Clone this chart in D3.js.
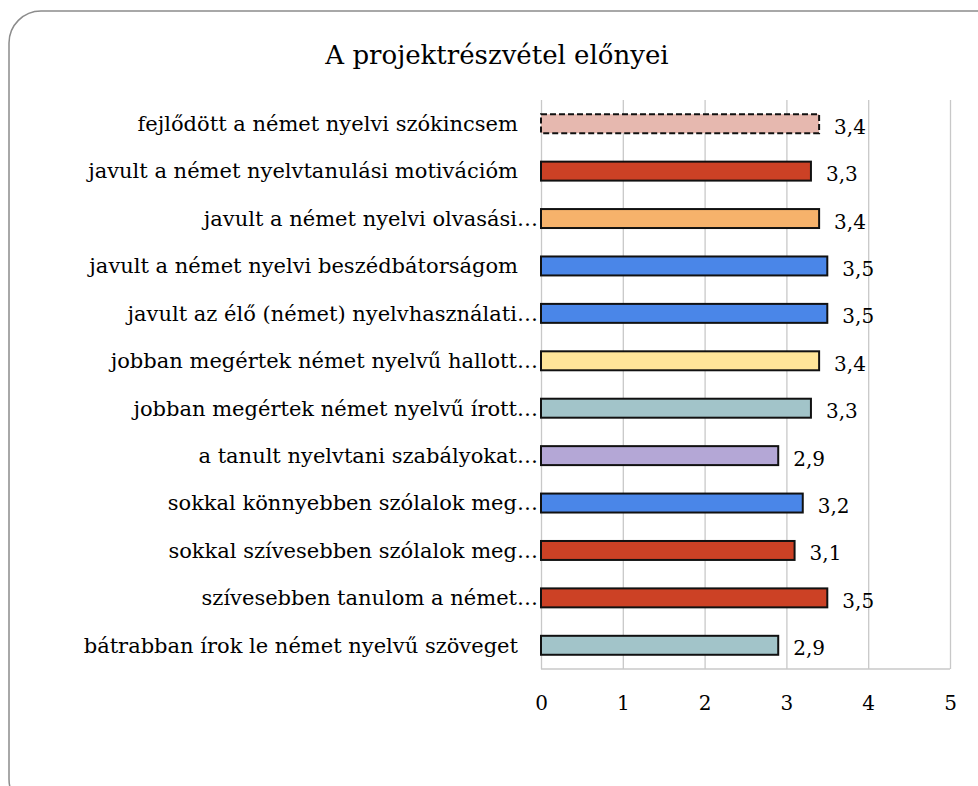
<!DOCTYPE html>
<html>
<head>
<meta charset="utf-8">
<script src="https://cdn.jsdelivr.net/npm/d3@7"></script>
<style>
  body { margin: 0; background: #fff; }
  svg text { font-family: "DejaVu Serif", serif; fill: #000; }
  .grid line { stroke: #c8c8c8; stroke-width: 1.3; }
  .grid .domain { display: none; }
  .ticks .domain, .ticks line { display: none; }
</style>
</head>
<body>
<script>
// chart data
var title = "A projektrészvétel előnyei";
var categories = [
  "fejlődött a német nyelvi szókincsem   ",
  "javult a német nyelvtanulási motivációm   ",
  "javult a német nyelvi olvasási…",
  "javult a német nyelvi beszédbátorságom   ",
  "javult az élő (német) nyelvhasználati…",
  "jobban megértek német nyelvű hallott…",
  "jobban megértek német nyelvű írott…",
  "a tanult nyelvtani szabályokat…",
  "sokkal könnyebben szólalok meg…",
  "sokkal szívesebben szólalok meg…",
  "szívesebben tanulom a német…",
  "bátrabban írok le német nyelvű szöveget   "
];
var values = [3.4, 3.3, 3.4, 3.5, 3.5, 3.4, 3.3, 2.9, 3.2, 3.1, 3.5, 2.9];
var barColors = ["#e6b8af", "#cc4125", "#f6b26b", "#4a86e8", "#4a86e8", "#ffe599",
  "#a2c4c9", "#b4a7d6", "#4a86e8", "#cc4125", "#cc4125", "#a2c4c9"];
var dashed = [true, false, false, false, false, false, false, false, false, false, false, false];
var xTicks = [0, 1, 2, 3, 4, 5];

var W = 978, H = 786;
var margin = {top: 100, right: 28, bottom: 117, left: 541},
    width = W - margin.left - margin.right,
    height = H - margin.top - margin.bottom;

var svg = d3.select("body").append("svg")
    .attr("width", W)
    .attr("height", H);

// rounded frame, runs off the right and bottom edges
svg.append("rect")
    .attr("x", 9).attr("y", 11)
    .attr("width", 1000).attr("height", 800)
    .attr("rx", 32).attr("ry", 32)
    .attr("fill", "#fff")
    .attr("stroke", "#8c8c8c")
    .attr("stroke-width", 1.5);

svg.append("text")
    .text(title)
    .attr("x", 497)
    .attr("y", 64)
    .attr("text-anchor", "middle")
    .style("font-size", "26px");

var g = svg.append("g")
    .attr("transform", "translate(" + margin.left + "," + margin.top + ")");

var x = d3.scaleLinear().domain([0, 5]).range([0, width]);
var y = d3.scaleBand().domain(categories).range([0, height]).paddingInner(0.6).paddingOuter(0.3);

// vertical gridlines
g.append("g")
    .attr("class", "grid")
    .call(d3.axisBottom(x).tickValues(xTicks).tickSize(height).tickFormat(""));

// bottom line
g.append("line")
    .attr("x1", 0).attr("x2", width)
    .attr("y1", height).attr("y2", height)
    .attr("stroke", "#c8c8c8").attr("stroke-width", 1.3);

// tick labels
g.append("g")
    .attr("class", "ticks")
    .attr("transform", "translate(0," + height + ")")
    .call(d3.axisBottom(x).tickValues(xTicks).tickSize(0).tickPadding(27).tickFormat(d3.format("d")))
    .selectAll("text")
      .style("font-size", "20px")
      .style("font-family", "DejaVu Serif, serif");

// bars
g.selectAll(".bar")
  .data(values)
  .enter().append("rect")
    .attr("class", "bar")
    .attr("x", x(0))
    .attr("y", function(d, i) { return y(categories[i]); })
    .attr("width", function(d) { return x(d) - x(0); })
    .attr("height", y.bandwidth())
    .attr("fill", function(d, i) { return barColors[i]; })
    .attr("stroke", "#111")
    .attr("stroke-width", 2)
    .attr("stroke-dasharray", function(d, i) { return dashed[i] ? "6,3" : null; });

// value labels
g.selectAll(".val")
  .data(values)
  .enter().append("text")
    .attr("class", "val")
    .attr("x", function(d) { return x(d) + 15; })
    .attr("y", function(d, i) { return y(categories[i]) + y.bandwidth() / 2; })
    .attr("dy", "0.5em")
    .style("font-size", "20px")
    .text(function(d) { return d.toFixed(1).replace(".", ","); });

// category labels
g.selectAll(".cat")
  .data(categories)
  .enter().append("text")
    .attr("class", "cat")
    .attr("x", -3)
    .attr("y", function(d) { return y(d) + y.bandwidth() / 2; })
    .attr("dy", "0.35em")
    .attr("text-anchor", "end")
    .style("white-space", "pre")
    .style("font-size", "21px")
    .text(function(d) { return d; });
</script>
</body>
</html>
